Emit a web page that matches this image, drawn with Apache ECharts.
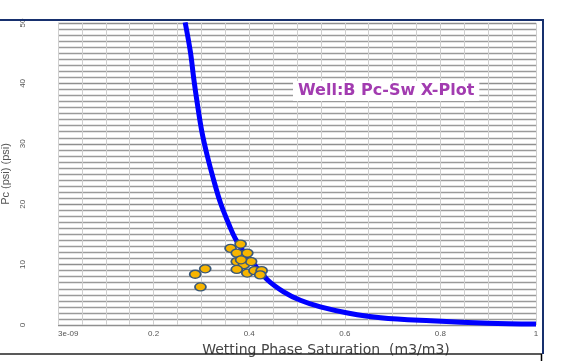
<!DOCTYPE html>
<html>
<head>
<meta charset="utf-8">
<script src="https://cdn.jsdelivr.net/npm/echarts@6/dist/echarts.min.js"></script>
<style>
html,body{margin:0;padding:0;background:#fff;}
#c{width:572px;height:361px;}
</style>
</head>
<body>
<div id="c"></div>
<script>
// Fitted Pc-Sw curve
var curveSw = [0.266, 0.277, 0.284, 0.291, 0.301, 0.312, 0.325, 0.340, 0.361, 0.371, 0.385, 0.402, 0.438, 0.472, 0.507, 0.549, 0.606, 0.675, 0.780, 0.900, 1.000];
var curvePc = [50.1, 45.2, 40.8, 36.9, 32.0, 28.1, 24.2, 20.2, 16.0, 14.3, 12.5, 10.8, 7.5, 5.5, 4.1, 3.0, 2.0, 1.2, 0.7, 0.3, 0.15];

// Core sample points
var sampleSw = [0.287, 0.308, 0.298, 0.361, 0.382, 0.374, 0.396, 0.374, 0.389, 0.404, 0.374, 0.396, 0.411, 0.426, 0.423, 0.383];
var samplePc = [8.4, 9.3, 6.3, 12.7, 13.4, 11.9, 11.9, 10.5, 10.0, 10.5, 9.2, 8.6, 9.0, 9.0, 8.3, 10.8];

var xTickMinLabel = '3e-09';
var chartTitle = 'Well:B Pc-Sw X-Plot';
var xName = 'Wetting Phase Saturation  (m3/m3)';
var yName = 'Pc (psi) (psi)';

var curveData = curveSw.map(function (v, i) { return [v, curvePc[i]]; });
var sampleData = sampleSw.map(function (v, i) { return [v, samplePc[i]]; });

var chart = echarts.init(document.getElementById('c'), null, {renderer: 'canvas'});
chart.setOption({
  animation: false,
  backgroundColor: '#fff',
  title: {
    text: chartTitle,
    left: 293, top: 81,
    backgroundColor: '#fff',
    padding: [2, 5],
    textStyle: {color: '#a23cb0', fontSize: 16, fontWeight: 'bold', fontFamily: 'DejaVu Sans, sans-serif'}
  },
  grid: {left: 58, right: 36, top: 23, bottom: 36, containLabel: false, outerBoundsMode: 'none'},
  xAxis: {
    type: 'value', min: 0, max: 1, interval: 0.2,
    name: xName, nameLocation: 'middle', nameGap: 17,
    nameTextStyle: {color: '#444', fontSize: 14, fontFamily: 'DejaVu Sans, sans-serif', padding: [0, 0, 0, 58]},
    axisLine: {show: false}, axisTick: {show: false},
    axisLabel: {
      color: '#555', fontSize: 8, margin: 5, alignMinLabel: 'left',
      fontFamily: 'Liberation Sans, Arial, sans-serif',
      formatter: function (v) { return v === 0 ? xTickMinLabel : String(+v.toFixed(1)); }
    },
    splitLine: {show: true, lineStyle: {color: '#cfcfcf', width: 1}},
    minorTick: {show: false, splitNumber: 4},
    minorSplitLine: {show: true, lineStyle: {color: '#cfcfcf', width: 1}}
  },
  yAxis: {
    type: 'value', min: 0, max: 50, interval: 10,
    name: yName, nameLocation: 'middle', nameGap: 47, nameRotate: 90,
    nameTextStyle: {color: '#555', fontSize: 11, fontFamily: 'Liberation Sans, Arial, sans-serif'},
    axisLine: {show: false}, axisTick: {show: false},
    axisLabel: {color: '#555', fontSize: 8, rotate: 90, margin: 31, fontFamily: 'Liberation Sans, Arial, sans-serif'},
    splitLine: {show: true, lineStyle: {color: '#8f8f8f', width: 1.3}},
    minorTick: {show: false, splitNumber: 10},
    minorSplitLine: {show: true, lineStyle: {color: '#9a9a9a', width: 1.3}}
  },
  series: [
    {
      type: 'line', data: curveData, smooth: 0.35, showSymbol: false, clip: true,
      lineStyle: {color: '#0000ff', width: 5}, z: 3
    },
    {
      type: 'scatter', data: sampleData, symbol: 'circle', symbolSize: [11, 8],
      itemStyle: {color: '#f7b500', borderColor: '#3a5878', borderWidth: 1.5, opacity: 1}, z: 4
    }
  ],
  graphic: [
    {type: 'line', shape: {x1: 0, y1: 20, x2: 544, y2: 20}, style: {stroke: '#17306e', lineWidth: 2}, z: 10},
    {type: 'line', shape: {x1: 543, y1: 20, x2: 543, y2: 354}, style: {stroke: '#17306e', lineWidth: 2}, z: 10},
    {type: 'line', shape: {x1: 0, y1: 354, x2: 542, y2: 354}, style: {stroke: '#222', lineWidth: 1.5}, z: 10},
    {type: 'line', shape: {x1: 541.5, y1: 354, x2: 541.5, y2: 361}, style: {stroke: '#000', lineWidth: 1.5}, z: 10}
  ]
});
</script>
</body>
</html>
